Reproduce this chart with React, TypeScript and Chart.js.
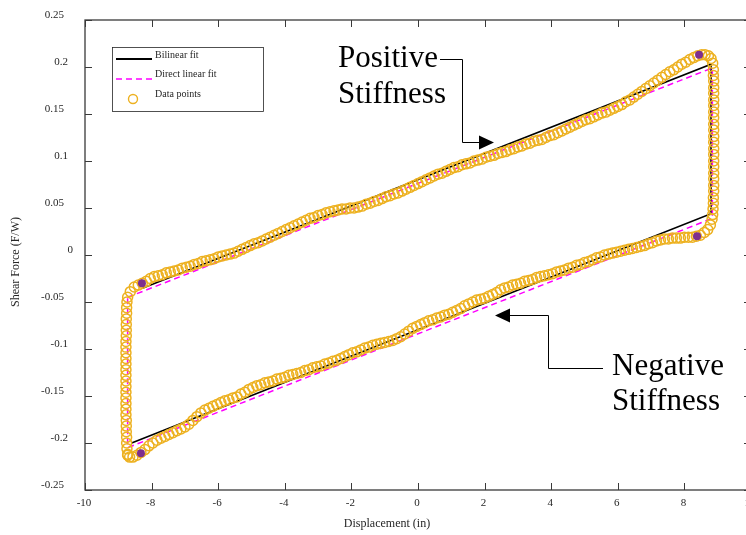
import { useEffect, useRef } from 'react';
import { Chart, registerables } from 'chart.js';

Chart.register(...registerables);

// Axis ticks
const xTicks = [-10, -8, -6, -4, -2, 0, 2, 4, 6, 8, 10];
const yTicks = [-0.25, -0.2, -0.15, -0.1, -0.05, 0, 0.05, 0.1, 0.15, 0.2, 0.25];
const yTickLabels = ['-0.25', '-0.2', '-0.15', '-0.1', '-0.05', '0', '0.05', '0.1', '0.15', '0.2', '0.25'];

// Measured hysteresis loop: [displacement (in), shear force (F/W)]
const leftEdge: number[][] = [
  [-8.72, -0.212], [-8.74, -0.206], [-8.75, -0.2], [-8.75, -0.194], [-8.76, -0.188], [-8.76, -0.182],
  [-8.76, -0.176], [-8.77, -0.17], [-8.77, -0.164], [-8.77, -0.158], [-8.77, -0.152], [-8.77, -0.146],
  [-8.77, -0.14], [-8.77, -0.134], [-8.77, -0.128], [-8.77, -0.122], [-8.77, -0.116], [-8.77, -0.11],
  [-8.77, -0.104], [-8.77, -0.098], [-8.77, -0.092], [-8.76, -0.086], [-8.76, -0.08], [-8.76, -0.074],
  [-8.76, -0.068], [-8.75, -0.062], [-8.75, -0.056], [-8.74, -0.05], [-8.72, -0.045],
];

const upperBranch: number[][] = [
  [-8.64, -0.039], [-8.52, -0.034], [-8.4, -0.032], [-8.28, -0.03], [-8.16, -0.028], [-8.04, -0.025],
  [-7.92, -0.023], [-7.8, -0.022], [-7.68, -0.021], [-7.56, -0.019], [-7.44, -0.018], [-7.32, -0.017],
  [-7.2, -0.016], [-7.08, -0.014], [-6.96, -0.013], [-6.84, -0.012], [-6.72, -0.01], [-6.6, -0.009],
  [-6.48, -0.007], [-6.36, -0.006], [-6.24, -0.005], [-6.12, -0.004], [-6.0, -0.002], [-5.88, -0.001],
  [-5.76, 0.0], [-5.64, 0.001], [-5.52, 0.002], [-5.4, 0.004], [-5.28, 0.006], [-5.16, 0.008],
  [-5.04, 0.01], [-4.92, 0.012], [-4.8, 0.013], [-4.68, 0.015], [-4.56, 0.017], [-4.44, 0.019],
  [-4.32, 0.021], [-4.2, 0.023], [-4.08, 0.025], [-3.96, 0.027], [-3.84, 0.029], [-3.72, 0.031],
  [-3.6, 0.033], [-3.48, 0.035], [-3.36, 0.037], [-3.24, 0.039], [-3.12, 0.04], [-3.0, 0.042],
  [-2.88, 0.043], [-2.76, 0.045], [-2.64, 0.046], [-2.52, 0.047], [-2.4, 0.048], [-2.28, 0.049],
  [-2.16, 0.049], [-2.04, 0.05], [-1.92, 0.05], [-1.8, 0.051], [-1.68, 0.052], [-1.56, 0.054],
  [-1.44, 0.055], [-1.32, 0.057], [-1.2, 0.058], [-1.08, 0.06], [-0.96, 0.062], [-0.84, 0.063],
  [-0.72, 0.065], [-0.6, 0.066], [-0.48, 0.068], [-0.36, 0.07], [-0.24, 0.072], [-0.12, 0.074],
  [0.0, 0.076], [0.12, 0.078], [0.24, 0.08], [0.36, 0.082], [0.48, 0.084], [0.6, 0.086],
  [0.72, 0.087], [0.84, 0.089], [0.96, 0.091], [1.08, 0.093], [1.2, 0.094], [1.32, 0.096],
  [1.44, 0.097], [1.56, 0.098], [1.68, 0.1], [1.8, 0.101], [1.92, 0.102], [2.04, 0.104],
  [2.16, 0.105], [2.28, 0.106], [2.4, 0.108], [2.52, 0.109], [2.64, 0.11], [2.76, 0.112],
  [2.88, 0.113], [3.0, 0.115], [3.12, 0.116], [3.24, 0.118], [3.36, 0.119], [3.48, 0.121],
  [3.6, 0.122], [3.72, 0.123], [3.84, 0.125], [3.96, 0.127], [4.08, 0.128], [4.2, 0.13],
  [4.32, 0.132], [4.44, 0.134], [4.56, 0.136], [4.68, 0.138], [4.8, 0.14], [4.92, 0.142],
  [5.04, 0.144], [5.16, 0.145], [5.28, 0.147], [5.4, 0.149], [5.52, 0.151], [5.64, 0.152],
  [5.76, 0.154], [5.88, 0.156], [6.0, 0.158], [6.12, 0.16], [6.24, 0.163], [6.36, 0.165],
  [6.48, 0.168], [6.6, 0.171], [6.72, 0.174], [6.84, 0.177], [6.96, 0.18], [7.08, 0.183],
  [7.2, 0.186], [7.32, 0.189], [7.44, 0.192], [7.56, 0.195], [7.68, 0.197], [7.8, 0.2],
  [7.92, 0.203], [8.04, 0.205], [8.16, 0.208], [8.28, 0.21], [8.4, 0.212], [8.52, 0.213],
  [8.62, 0.213], [8.72, 0.212], [8.8, 0.209], [8.85, 0.204],
];

const rightEdge: number[][] = [
  [8.87, 0.197], [8.87, 0.191], [8.88, 0.185], [8.88, 0.178], [8.88, 0.172], [8.88, 0.165],
  [8.88, 0.159], [8.88, 0.152], [8.88, 0.146], [8.88, 0.139], [8.88, 0.133], [8.88, 0.126],
  [8.88, 0.12], [8.88, 0.113], [8.88, 0.107], [8.88, 0.1], [8.88, 0.094], [8.88, 0.087],
  [8.88, 0.081], [8.88, 0.074], [8.88, 0.068], [8.87, 0.061], [8.87, 0.055], [8.86, 0.049],
  [8.85, 0.043],
];

const lowerBranch: number[][] = [
  [8.83, 0.038], [8.78, 0.032], [8.7, 0.027], [8.6, 0.024], [8.48, 0.021], [8.36, 0.02],
  [8.24, 0.019], [8.12, 0.019], [8.0, 0.019], [7.88, 0.018], [7.76, 0.018], [7.64, 0.018],
  [7.52, 0.017], [7.4, 0.017], [7.28, 0.016], [7.16, 0.015], [7.04, 0.013], [6.92, 0.012],
  [6.8, 0.01], [6.68, 0.009], [6.56, 0.008], [6.44, 0.007], [6.32, 0.006], [6.2, 0.005],
  [6.08, 0.004], [5.96, 0.003], [5.84, 0.002], [5.72, 0.001], [5.6, 0.0], [5.48, -0.002],
  [5.36, -0.003], [5.24, -0.005], [5.12, -0.007], [5.0, -0.008], [4.88, -0.01], [4.76, -0.011],
  [4.64, -0.013], [4.52, -0.014], [4.4, -0.016], [4.28, -0.017], [4.16, -0.018], [4.04, -0.02],
  [3.92, -0.021], [3.8, -0.022], [3.68, -0.023], [3.56, -0.024], [3.44, -0.026], [3.32, -0.027],
  [3.2, -0.028], [3.08, -0.03], [2.96, -0.031], [2.84, -0.032], [2.72, -0.034], [2.6, -0.035],
  [2.48, -0.037], [2.36, -0.04], [2.24, -0.042], [2.12, -0.044], [2.0, -0.046], [1.88, -0.047],
  [1.76, -0.048], [1.64, -0.05], [1.52, -0.052], [1.4, -0.054], [1.28, -0.057], [1.16, -0.059],
  [1.04, -0.061], [0.92, -0.063], [0.8, -0.064], [0.68, -0.066], [0.56, -0.067], [0.44, -0.069],
  [0.32, -0.07], [0.2, -0.072], [0.08, -0.074], [-0.04, -0.076], [-0.16, -0.078], [-0.28, -0.081],
  [-0.4, -0.084], [-0.52, -0.087], [-0.64, -0.089], [-0.76, -0.091], [-0.88, -0.092], [-1.0, -0.093],
  [-1.12, -0.094], [-1.24, -0.095], [-1.36, -0.096], [-1.48, -0.098], [-1.6, -0.099], [-1.72, -0.101],
  [-1.84, -0.103], [-1.96, -0.104], [-2.08, -0.106], [-2.2, -0.108], [-2.32, -0.11], [-2.44, -0.112],
  [-2.56, -0.113], [-2.68, -0.115], [-2.8, -0.116], [-2.92, -0.118], [-3.04, -0.119], [-3.16, -0.12],
  [-3.28, -0.122], [-3.4, -0.123], [-3.52, -0.125], [-3.64, -0.126], [-3.76, -0.127], [-3.88, -0.128],
  [-4.0, -0.13], [-4.12, -0.131], [-4.24, -0.132], [-4.36, -0.134], [-4.48, -0.135], [-4.6, -0.136],
  [-4.72, -0.138], [-4.84, -0.139], [-4.96, -0.141], [-5.08, -0.143], [-5.2, -0.146], [-5.32, -0.148],
  [-5.44, -0.151], [-5.56, -0.152], [-5.68, -0.154], [-5.8, -0.155], [-5.92, -0.157], [-6.04, -0.159],
  [-6.16, -0.161], [-6.28, -0.163], [-6.4, -0.165], [-6.52, -0.168], [-6.64, -0.172], [-6.76, -0.176],
  [-6.88, -0.18], [-7.0, -0.183], [-7.12, -0.185], [-7.24, -0.187], [-7.36, -0.189], [-7.48, -0.191],
  [-7.6, -0.193], [-7.72, -0.195], [-7.84, -0.197], [-7.96, -0.2], [-8.08, -0.203], [-8.2, -0.207],
  [-8.32, -0.21], [-8.44, -0.213], [-8.56, -0.215], [-8.66, -0.215], [-8.72, -0.213],
];

// Corner points of the loop where the stiffness changes
const turningPoints: number[][] = [
  [8.44, 0.213], [8.38, 0.02], [-8.32, -0.211], [-8.29, -0.03],
];

// Bilinear fit: upper segment, unloading drop, lower segment
const bilinearX = [-8.26, 8.8, 8.8, -8.6];
const bilinearY = [-0.035, 0.203, 0.044, -0.2];

// Direct linear fit (closed parallelogram)
const directX = [-8.72, 8.84, 8.84, -8.72, -8.72];
const directY = [-0.045, 0.199, 0.039, -0.205, -0.045];

const SERIF = '"Liberation Serif", "Times New Roman", serif';
const AXIS_COLOR = '#3a3a3a';
const TEXT_COLOR = '#262626';
const ORANGE = '#EDB120';
const PURPLE = '#7E2F8E';
const MAGENTA = '#FF00FF';

const pairsToXY = (pairs: number[][]) => pairs.map(([x, y]) => ({ x, y }));
const zipXY = (xs: number[], ys: number[]) => xs.map((x, i) => ({ x, y: ys[i] }));

function drawArrowHead(ctx: CanvasRenderingContext2D, tipX: number, tipY: number, dir: number) {
  const len = 15;
  const half = 7;
  ctx.beginPath();
  ctx.moveTo(tipX, tipY);
  ctx.lineTo(tipX - dir * len, tipY - half);
  ctx.lineTo(tipX - dir * len, tipY + half);
  ctx.closePath();
  ctx.fill();
}

const decorPlugin = {
  id: 'decor',
  afterDraw(chart: any) {
    const ctx: CanvasRenderingContext2D = chart.ctx;
    const { left, right, top, bottom } = chart.chartArea;
    const xs = chart.scales.x;
    const ys = chart.scales.y;
    const tickLen = 7;

    ctx.save();

    // Axes box
    ctx.strokeStyle = AXIS_COLOR;
    ctx.lineWidth = 1.3;
    ctx.strokeRect(left, top, right - left, bottom - top);

    // Inward ticks on all four sides
    ctx.lineWidth = 1;
    ctx.beginPath();
    xTicks.forEach((v) => {
      const px = Math.round(xs.getPixelForValue(v)) + 0.5;
      ctx.moveTo(px, bottom);
      ctx.lineTo(px, bottom - tickLen);
      ctx.moveTo(px, top);
      ctx.lineTo(px, top + tickLen);
    });
    yTicks.forEach((v) => {
      const py = Math.round(ys.getPixelForValue(v)) + 0.5;
      ctx.moveTo(left, py);
      ctx.lineTo(left + tickLen, py);
      ctx.moveTo(right, py);
      ctx.lineTo(right - tickLen, py);
    });
    ctx.stroke();

    // Tick labels
    ctx.fillStyle = TEXT_COLOR;
    ctx.font = `11px ${SERIF}`;
    ctx.textAlign = 'center';
    ctx.textBaseline = 'middle';
    xTicks.forEach((v) => {
      ctx.fillText(String(v), xs.getPixelForValue(v) - 1, bottom + 13);
    });
    ctx.textAlign = 'right';
    yTicks.forEach((v, i) => {
      const label = yTickLabels[i];
      const decimals = label.includes('.') ? label.split('.')[1].length : 0;
      const shift = decimals === 2 ? 0 : decimals === 1 ? 4 : 9;
      ctx.fillText(label, 64 + shift, ys.getPixelForValue(v) - 5);
    });

    // Axis titles
    ctx.font = `12px ${SERIF}`;
    ctx.textAlign = 'center';
    ctx.textBaseline = 'middle';
    ctx.fillText('Displacement (in)', 387, 524);
    ctx.save();
    ctx.translate(16, 262);
    ctx.rotate(-Math.PI / 2);
    ctx.fillText('Shear Force (F/W)', 0, 0);
    ctx.restore();

    // Legend
    ctx.fillStyle = '#ffffff';
    ctx.fillRect(112, 47, 151, 64);
    ctx.strokeStyle = '#262626';
    ctx.lineWidth = 0.8;
    ctx.strokeRect(112.5, 47.5, 151, 64);

    ctx.strokeStyle = '#000000';
    ctx.lineWidth = 1.8;
    ctx.beginPath();
    ctx.moveTo(116, 59);
    ctx.lineTo(152, 59);
    ctx.stroke();

    ctx.strokeStyle = MAGENTA;
    ctx.lineWidth = 1.5;
    ctx.setLineDash([6, 4]);
    ctx.beginPath();
    ctx.moveTo(116, 79);
    ctx.lineTo(152, 79);
    ctx.stroke();
    ctx.setLineDash([]);

    ctx.strokeStyle = ORANGE;
    ctx.lineWidth = 1.4;
    ctx.beginPath();
    ctx.arc(133, 99, 4.5, 0, Math.PI * 2);
    ctx.stroke();

    ctx.fillStyle = TEXT_COLOR;
    ctx.font = `10px ${SERIF}`;
    ctx.textAlign = 'left';
    ctx.textBaseline = 'alphabetic';
    ctx.fillText('Bilinear fit', 155, 57.5);
    ctx.fillText('Direct linear fit', 155, 77);
    ctx.fillText('Data points', 155, 96.5);

    // Annotations
    ctx.fillStyle = '#000000';
    ctx.font = `31px ${SERIF}`;
    ctx.fillText('Positive', 338, 67);
    ctx.fillText('Stiffness', 338, 103);
    ctx.fillText('Negative', 612, 375);
    ctx.fillText('Stiffness', 612, 410);

    ctx.strokeStyle = '#000000';
    ctx.lineWidth = 1;
    ctx.beginPath();
    ctx.moveTo(440, 59.5);
    ctx.lineTo(462.5, 59.5);
    ctx.lineTo(462.5, 142.5);
    ctx.lineTo(480, 142.5);
    ctx.stroke();
    drawArrowHead(ctx, 494, 142.5, 1);

    ctx.beginPath();
    ctx.moveTo(603, 368.5);
    ctx.lineTo(548.5, 368.5);
    ctx.lineTo(548.5, 315.5);
    ctx.lineTo(509, 315.5);
    ctx.stroke();
    drawArrowHead(ctx, 495, 315.5, -1);

    ctx.restore();
  },
};

export default function App() {
  const canvasRef = useRef<HTMLCanvasElement | null>(null);

  useEffect(() => {
    const canvas = canvasRef.current;
    if (!canvas) return;

    const loop = pairsToXY([...leftEdge, ...upperBranch, ...rightEdge, ...lowerBranch]);

    const chart = new Chart(canvas, {
      type: 'scatter',
      data: {
        datasets: [
          {
            label: 'Turning points',
            data: pairsToXY(turningPoints),
            pointRadius: 4,
            pointBackgroundColor: PURPLE,
            pointBorderColor: PURPLE,
            pointBorderWidth: 0,
            showLine: false,
          },
          {
            label: 'Data points',
            data: loop,
            pointRadius: 5,
            pointBorderWidth: 1.5,
            pointBorderColor: ORANGE,
            pointBackgroundColor: 'rgba(0,0,0,0)',
            showLine: false,
          },
          {
            label: 'Direct linear fit',
            data: zipXY(directX, directY),
            showLine: true,
            borderColor: MAGENTA,
            borderWidth: 1.5,
            borderDash: [6, 4],
            pointRadius: 0,
            fill: false,
          },
          {
            label: 'Bilinear fit',
            data: zipXY(bilinearX, bilinearY),
            showLine: true,
            borderColor: '#000000',
            borderWidth: 1.6,
            pointRadius: 0,
            fill: false,
          },
        ],
      },
      options: {
        animation: false,
        responsive: false,
        devicePixelRatio: 1,
        layout: { padding: { left: 85, top: 20, right: 19, bottom: 45 } },
        plugins: {
          legend: { display: false },
          tooltip: { enabled: false },
        },
        scales: {
          x: { type: 'linear', min: -10, max: 10, display: false },
          y: { type: 'linear', min: -0.25, max: 0.25, display: false },
        },
      },
      plugins: [decorPlugin],
    });

    return () => chart.destroy();
  }, []);

  return (
    <div
      style={{
        position: 'absolute',
        left: 0,
        top: 0,
        width: 746,
        height: 535,
        overflow: 'hidden',
        background: '#ffffff',
      }}
    >
      <canvas ref={canvasRef} width={770} height={535} style={{ display: 'block' }} />
    </div>
  );
}
